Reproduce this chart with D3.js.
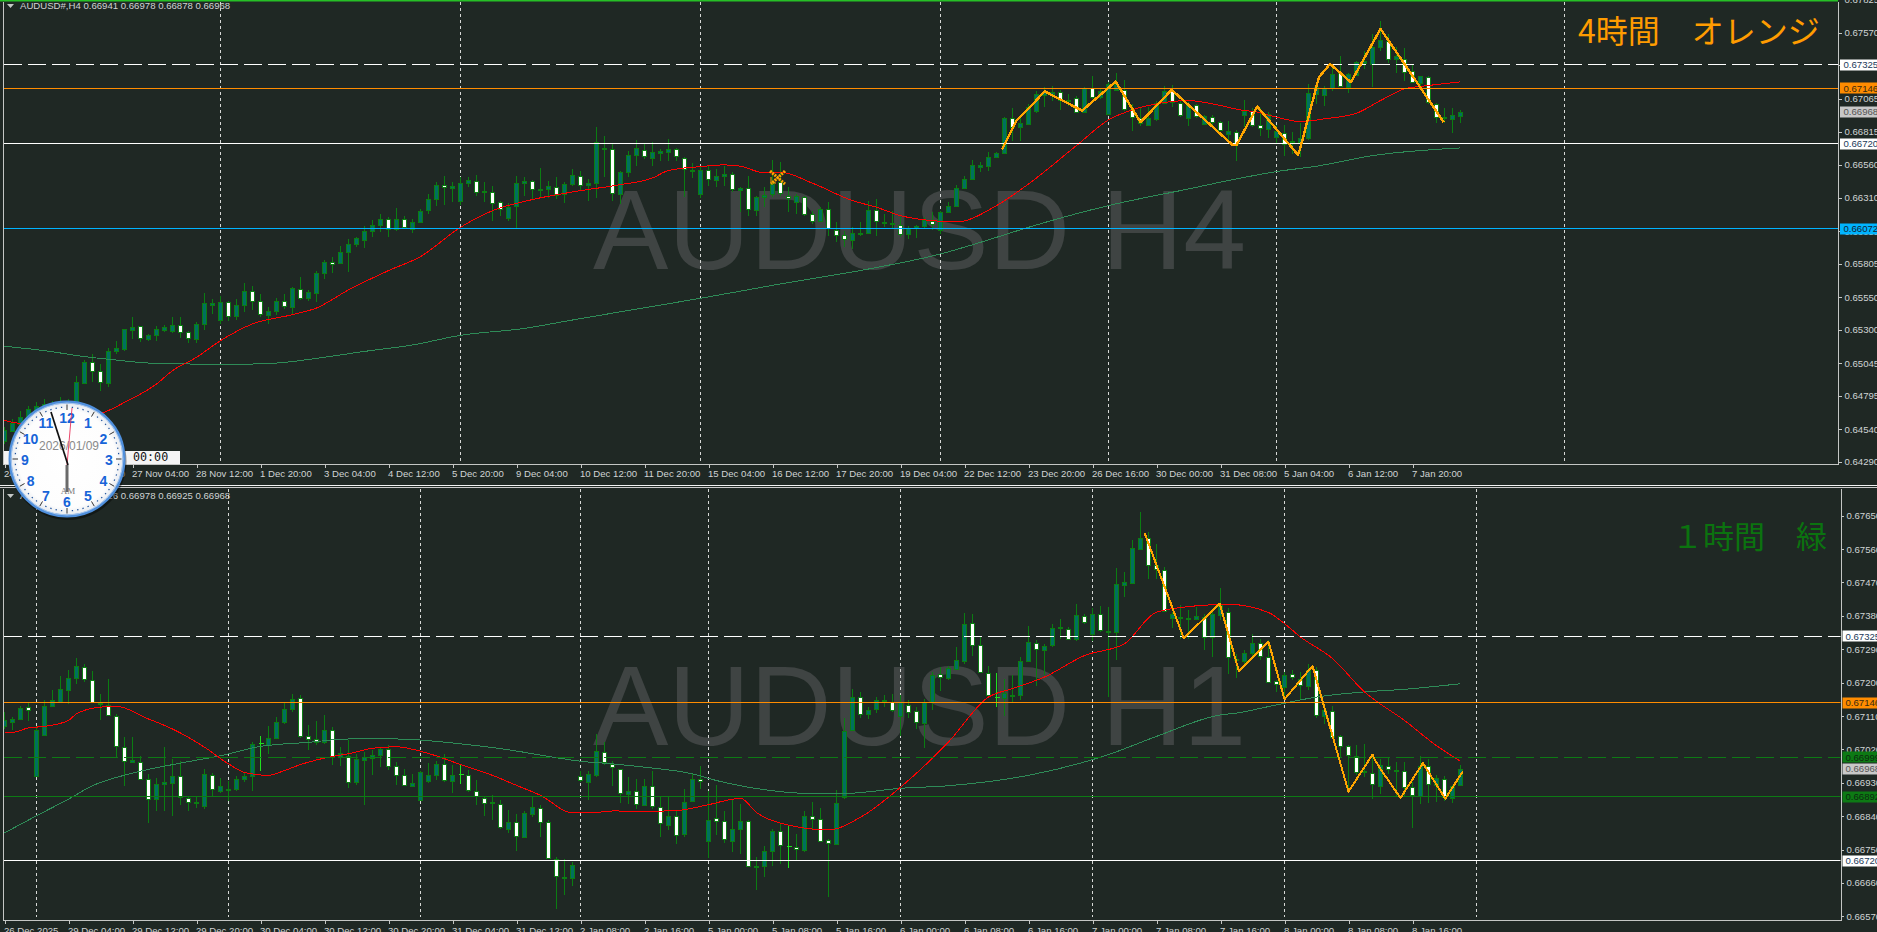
<!DOCTYPE html>
<html><head><meta charset="utf-8">
<script src="https://cdnjs.cloudflare.com/ajax/libs/d3/7.8.5/d3.min.js"></script>
<style>html,body{margin:0;padding:0;background:#1f2824;overflow:hidden}svg{display:block}</style>
</head><body><svg id="c" width="1877" height="932"></svg>
<script>
// Prices are stored in points (1e-5)
const h4Open=[64451,64527,64584,64629,64655,64693,64719,64719,64680,64744,64890,65050,64981,64897,65134,65150,65300,65326,65226,65257,65300,65292,65336,65280,65231,65343,65494,65379,65509,65402,65489,65593,65517,65410,65440,65517,65471,65614,65540,65586,65731,65815,65808,65892,65955,65986,66055,66098,66144,66070,66144,66070,66121,66216,66297,66407,66381,66282,66420,66440,66351,66356,66274,66154,66246,66422,66435,66374,66376,66394,66343,66415,66478,66404,66420,66682,66680,66338,66506,66636,66677,66613,66657,66657,66680,66616,66516,66343,66519,66443,66476,66488,66369,66381,66216,66312,66338,66427,66325,66277,66318,66182,66131,66221,66063,66022,65986,66037,66040,66213,66121,66108,66103,66032,66075,66091,66129,66063,66200,66246,66379,66453,66550,66550,66618,66652,66917,66848,66879,66970,67095,67103,67116,67047,67075,66965,67149,67078,66947,67134,67136,66988,66919,66868,66909,67039,67123,67032,66924,67016,66873,66930,66886,66797,66815,66937,66975,66868,66835,66771,66802,66736,66736,66764,67103,67098,67146,67261,67154,67251,67343,67332,67460,67511,67368,67373,67276,67185,67230,67024,66922,66917,66941];
const h4Close=[64533,64589,64635,64693,64719,64731,64668,64757,64744,64902,65053,64981,64900,65139,65160,65305,65323,65231,65259,65305,65321,65336,65282,65236,65343,65504,65507,65514,65405,65489,65596,65519,65420,65443,65519,65476,65619,65542,65588,65736,65818,65802,65892,65955,66001,66057,66098,66144,66070,66144,66080,66121,66208,66297,66407,66394,66399,66422,66445,66356,66361,66269,66223,66241,66422,66437,66376,66376,66399,66333,66417,66483,66409,66422,66736,66692,66341,66504,66636,66692,66631,66657,66669,66682,66624,66529,66524,66524,66448,66476,66491,66371,66384,66218,66315,66330,66414,66343,66312,66320,66190,66131,66223,66073,66024,65989,66040,66042,66216,66126,66114,66116,66037,66078,66091,66139,66103,66198,66246,66381,66450,66560,66562,66621,66649,66919,66848,66879,67006,67100,67116,67118,67052,67057,66970,67146,67078,67123,67179,67179,66993,66930,66879,66919,67032,67128,67042,66937,67021,66930,66935,66889,66822,66817,66720,66970,66866,66843,66950,66817,66720,66746,66766,67111,67154,67149,67256,67159,67256,67348,67358,67465,67516,67371,67389,67276,67195,67236,67039,66922,66924,66945,66968];
const h4High=[64553,64617,64680,64719,64744,64770,64757,64782,64770,64948,65068,65114,65037,65160,65211,65305,65394,65331,65267,65331,65338,65400,65395,65293,65361,65581,65535,65560,65522,65535,65657,65637,65573,65471,65542,65573,65624,65700,65604,65751,65833,65859,65943,65991,66012,66096,66142,66185,66159,66231,66172,66147,66223,66338,66427,66478,66427,66465,66465,66486,66427,66402,66287,66267,66478,66465,66445,66537,66440,66465,66427,66529,66516,66453,66853,66784,66720,66516,66669,66751,66720,66733,66682,66759,66687,66618,66575,66542,66555,66529,66555,66504,66389,66478,66325,66389,66601,66585,66389,66338,66325,66210,66236,66279,66121,66057,66083,66121,66287,66300,66185,66210,66159,66096,66103,66165,66198,66210,66274,66409,66473,66598,66585,66657,66657,66924,66996,66937,67026,67128,67154,67164,67134,67103,67083,67159,67236,67146,67192,67266,67210,67026,67001,67006,67052,67167,67174,67052,67039,67026,66945,66945,66899,66894,66828,67057,66996,66996,66968,66868,66868,66815,66879,67179,67179,67167,67332,67389,67261,67358,67434,67562,67659,67562,67460,67455,67320,67243,67236,67032,66996,66996,66978];
const h4Low=[64425,64515,64578,64617,64642,64668,64655,64693,64668,64731,64884,64897,64828,64864,65114,65139,65229,65203,65211,65216,65280,65272,65236,65196,65196,65300,65420,65343,65364,65374,65433,65451,65395,65343,65415,65458,65420,65527,65522,65509,65685,65731,65802,65739,65930,65925,66012,66045,66012,66057,66070,66037,66114,66185,66246,66256,66274,66256,66389,66325,66274,66129,66172,66129,66073,66325,66300,66312,66307,66297,66267,66402,66369,66282,66307,66465,66282,66261,66465,66550,66606,66555,66593,66593,66593,66312,66458,66307,66402,66389,66402,66351,66198,66172,66172,66236,66312,66325,66198,66185,66172,66108,66121,66019,65968,65930,65917,66019,66032,66019,66083,66070,66006,65991,66001,66078,66063,66032,66198,66241,66376,66445,66504,66511,66618,66644,66746,66746,66873,66955,67006,67052,66981,67014,66963,66963,67065,67065,66945,67123,66975,66817,66861,66861,66899,67034,67006,66924,66861,66919,66868,66868,66817,66720,66588,66848,66848,66784,66766,66720,66631,66644,66618,66751,67026,67014,67128,67154,67108,67241,67294,67154,67429,67338,67261,67205,67190,67154,67026,66879,66879,66802,66878];

const h1Open=[67082,67094,67102,67134,66949,67059,67137,67150,67181,67212,67242,67206,67145,67140,67110,67026,66986,66987,66940,66887,66926,66929,66949,66889,66875,66869,66950,66909,66910,66913,66941,66949,67035,67033,67051,67096,67129,67158,67055,67048,67038,67072,67000,67003,66932,66992,66997,67005,67021,66974,66950,66923,66885,66935,66950,66980,66935,66951,66950,66907,66890,66877,66872,66805,66824,66784,66846,66863,66824,66724,66675,66673,66947,66932,66950,67012,66980,66967,66899,66909,66871,66921,66866,66818,66840,66792,66881,66939,66773,66836,66826,66772,66805,66826,66702,66706,66747,66799,66757,66756,66749,66840,66832,66775,66765,66891,67071,67161,67116,67129,67151,67147,67109,67141,67124,67092,67148,67222,67212,67239,67260,67361,67301,67226,67160,67160,67167,67166,67259,67307,67289,67302,67347,67344,67316,67380,67332,67384,67337,67337,67463,67469,67562,67591,67517,67503,67375,67375,67370,67370,67378,67323,67383,67390,67265,67260,67280,67306,67269,67204,67188,67222,67210,67191,67234,67110,67123,67055,67028,67001,66959,66956,66921,66975,66961,66963,66918,66894,66974,66924,66939,66887,66926];
const h1Close=[67098,67102,67132,67127,67073,67137,67152,67184,67213,67244,67209,67148,67141,67113,67028,66987,66992,66941,66887,66927,66931,66949,66893,66879,66878,66954,66913,66922,66914,66941,66949,67035,67035,67052,67094,67130,67157,67055,67048,67040,67071,67000,67011,66934,66993,67000,67005,67022,66974,66951,66923,66930,66960,66951,66981,66936,66951,66951,66909,66893,66877,66874,66809,66824,66785,66849,66864,66825,66728,66677,66671,66708,66935,66954,67015,66985,66971,66901,66908,66873,66922,66868,66823,66841,66790,66878,66941,66934,66830,66828,66777,66805,66827,66705,66706,66746,66800,66760,66757,66750,66841,66833,66774,66767,66876,67069,67161,67114,67127,67154,67154,67125,67147,67122,67095,67148,67220,67214,67239,67262,67359,67303,67228,67167,67160,67173,67163,67258,67310,67291,67299,67348,67349,67317,67381,67364,67386,67341,67339,67467,67470,67564,67591,67519,67506,67392,67386,67378,67373,67379,67323,67386,67409,67269,67262,67281,67308,67271,67202,67196,67221,67214,67194,67235,67112,67125,67053,67028,67003,66958,66963,66925,66978,66966,66965,66920,66897,66976,66925,66942,66891,66920,66968];
const h1High=[67120,67107,67136,67145,67084,67152,67179,67217,67233,67267,67251,67230,67170,67210,67116,67053,67053,67001,66954,66943,67026,66995,66990,66893,66891,66967,66956,66943,66936,66947,66958,67040,67055,67082,67107,67148,67170,67166,67087,67096,67114,67080,67026,67044,67008,67012,67017,67026,67032,66985,66967,66954,66963,66983,66990,67008,66977,66981,66965,66938,66895,66898,66884,66857,66846,66855,66891,66869,66830,66729,66725,66716,66963,66963,67062,67039,66990,66968,66945,66941,66941,66963,66891,66891,66855,66913,66954,66974,66909,66925,66855,66887,66873,66830,66731,66760,66805,66819,66814,66792,66855,66877,66862,66779,66911,67105,67184,67175,67134,67161,67166,67170,67166,67152,67134,67156,67228,67242,67246,67296,67388,67386,67323,67244,67226,67210,67220,67269,67352,67314,67305,67357,67372,67350,67411,67386,67400,67406,67404,67510,67498,67584,67659,67606,67575,67512,67391,67409,67395,67404,67386,67391,67456,67400,67278,67287,67330,67318,67314,67206,67228,67233,67228,67249,67242,67138,67138,67058,67031,67033,67035,67008,66994,66997,66985,66985,66931,67003,66995,66950,66947,66925,66978];
const h1Low=[67075,67071,67098,67096,66947,67058,67134,67148,67143,67195,67201,67145,67098,67111,66997,66920,66986,66938,66821,66855,66855,66841,66869,66855,66862,66858,66891,66902,66882,66909,66931,66909,66961,67008,67049,67089,67120,67051,67017,67033,67035,66979,66974,66916,66925,66869,66950,66972,66965,66923,66920,66920,66882,66929,66938,66932,66902,66927,66905,66871,66841,66830,66805,66794,66747,66781,66837,66785,66725,66590,66628,66653,66931,66884,66945,66977,66920,66875,66873,66860,66868,66860,66785,66803,66765,66785,66877,66913,66727,66790,66767,66743,66738,66702,66641,66675,66706,66711,66700,66720,66744,66803,66772,66621,66763,66887,67069,67105,67102,67118,67134,67120,67055,67105,67076,67024,67127,67177,67208,67238,67249,67273,67226,67161,67134,67109,67148,67152,67256,67190,67220,67296,67318,67314,67312,67359,67312,67337,67161,67262,67431,67467,67557,67480,67478,67391,67346,67318,67318,67368,67287,67269,67368,67224,67213,67242,67269,67260,67201,67174,67161,67206,67157,67179,67105,67089,67049,66999,66904,66950,66945,66887,66900,66954,66891,66891,66808,66873,66875,66879,66880,66875,66925];

// Moving averages: bar index and value
const h4RedBars=[0,2,12,15,19,21,24,27,31,36,39,43,48,52,57,61,66,72,77,81,83,87,90,92,95,97,101,106,109,112,117,119,124,128,134,138,141,144,148,152,155,156,159,162,165,169,172,175,178,182];
const h4RedVals=[64607,64584,64660,64744,64885,64987,65089,65216,65344,65415,65466,65604,65752,65859,66083,66210,66295,66363,66409,66460,66517,66547,66560,66550,66499,66504,66420,66287,66236,66172,66129,66124,66249,66414,66708,66904,66981,67027,67052,67014,66975,66970,66925,66891,66912,66955,67052,67141,67167,67195];
const h4GreenBars=[0,5,10,14,18,24,28,34,39,45,51,57,65,71,79,87,97,108,117,122,128,138,148,154,159,164,171,182];
const h4GreenVals=[65173,65140,65094,65068,65045,65037,65035,65045,65081,65134,65183,65257,65310,65374,65458,65540,65650,65764,65879,65968,66083,66249,66376,66453,66509,66550,66631,66690];
const h4ZigBars=[124.7,126.5,128.2,130,134.7,138.9,142,145.9,153.5,154,156.6,161.7,162,164.3,165.7,168.3,172,175,179.9];
const h4ZigVals=[66677,66899,67001,67123,66975,67197,66886,67134,66713,66713,67006,66636,66695,67230,67332,67192,67600,67332,66886];
const h1RedBars=[0,1,3,5,8,9,12,14,18,21,25,28,30,33,35,37,41,43,46,49,52,55,57,61,64,67,71,74,76,80,84,88,92,94,98,103,107,112,118,123,126,130,135,140,144,149,153,158,160,162,166,170,175,179,182];
const h1RedVals=[67066,67066,67078,67082,67098,67116,67134,67136,67102,67075,67026,66981,66958,66950,66963,66979,67001,67008,67023,67027,67015,66995,66979,66950,66923,66896,66849,66850,66854,66853,66855,66871,66888,66850,66816,66803,66837,66918,67040,67161,67184,67215,67273,67305,67390,67407,67411,67389,67359,67323,67265,67175,67098,67030,66988];
const h1GreenBars=[0,4,8,11,16,22,27,32,38,43,49,57,63,68,72,76,80,86,89,93,97,102,106,112,118,128,138,144,152,154,159,164,170,175,182];
const h1GreenVals=[66795,66841,66886,66922,66956,66983,67003,67028,67039,67048,67048,67035,67019,67001,66988,66981,66972,66954,66936,66918,66906,66900,66902,66915,66922,66950,67006,67055,67113,67118,67140,67161,67175,67182,67197];
const h1ZigBars=[142.5,147.4,151.9,154.3,158,160,163.5,168,171,171.3,172,174.5,177.3,180.1,182.3];
const h1ZigVals=[67604,67320,67413,67231,67310,67155,67245,66906,67006,66992,66967,66889,66983,66887,66961];

const h4PriceTicks=[67825,67570,67320,67065,66815,66560,66310,66055,65805,65550,65300,65045,64795,64540,64290];
const h1PriceTicks=[67650,67560,67470,67380,67290,67200,67110,67020,66930,66840,66750,66660,66570];
const h4TimeLabels=["24 Nov 12:00","25 Nov 20:00","27 Nov 04:00","28 Nov 12:00","1 Dec 20:00","3 Dec 04:00","4 Dec 12:00","5 Dec 20:00","9 Dec 04:00","10 Dec 12:00","11 Dec 20:00","15 Dec 04:00","16 Dec 12:00","17 Dec 20:00","19 Dec 04:00","22 Dec 12:00","23 Dec 20:00","26 Dec 16:00","30 Dec 00:00","31 Dec 08:00","5 Jan 04:00","6 Jan 12:00","7 Jan 20:00"];
const h1TimeLabels=["26 Dec 2025","29 Dec 04:00","29 Dec 12:00","29 Dec 20:00","30 Dec 04:00","30 Dec 12:00","30 Dec 20:00","31 Dec 04:00","31 Dec 12:00","2 Jan 08:00","2 Jan 16:00","5 Jan 00:00","5 Jan 08:00","5 Jan 16:00","6 Jan 00:00","6 Jan 08:00","6 Jan 16:00","7 Jan 00:00","7 Jan 08:00","7 Jan 16:00","8 Jan 00:00","8 Jan 08:00","8 Jan 16:00"];
const h4Separators=[27,57,87,117,138,159,195];
const h1Separators=[4,28,52,72,88,112,136,160,184];
const h4Levels=[67325,67146,66720,66072];
const h4LevelKinds=["dashWhite","orange","white","blue"];
const h1Levels=[67325,67146,66999,66892,66720];
const h1LevelKinds=["dashWhite","orange","dashGreen","green","white"];
const h4Current=66968, h1Current=66968;
const clockNumbers=[12,1,2,3,4,5,6,7,8,9,10,11];

const BG="#1f2824",WICK="#0b7d12",TEAL="#00705f",FONT="'Liberation Sans',Arial,sans-serif",AX="#d0d4d4";
const kinds={
 dashWhite:{c:"#ffffff",d:"18 6",w:1,box:"#ffffff",t:"#1b3a5a"},
 orange:{c:"#ff8c00",d:null,w:1,box:"#ff8c00",t:"#3a2a10"},
 white:{c:"#ffffff",d:null,w:1,box:"#ffffff",t:"#1b3a5a"},
 blue:{c:"#00b4ff",d:null,w:1,box:"#00b4ff",t:"#123"},
 dashGreen:{c:"#0d7a14",d:"18 6",w:1,box:"#0d7a14",t:"#0c2a10"},
 green:{c:"#0d7a14",d:null,w:1,box:"#0d7a14",t:"#0c2a10"}
};
const svg=d3.select("#c");
svg.append("rect").attr("width",1877).attr("height",932).attr("fill",BG);
const defs=svg.append("defs");

const xBar=d3.scaleLinear().domain([0,1]).range([4.5,12.5]);
function fmt(v){return d3.format(".5f")(v/1e5);}

function panel(o){
 const {id,top,bottom,right,y,open,close,high,low}=o;
 defs.append("clipPath").attr("id",id).append("rect").attr("x",4).attr("y",top).attr("width",right-4).attr("height",bottom-top);
 const g=svg.append("g").attr("clip-path",`url(#${id})`);
 g.append("text").attr("x",o.wmX).attr("y",o.wmY).attr("font-family",FONT).attr("font-size",o.wmSize).attr("fill","#3f4443").text(o.wm);
 g.selectAll(".sep").data(o.seps).join("line").attr("x1",d=>xBar(d)).attr("x2",d=>xBar(d)).attr("y1",top).attr("y2",o.sepEnd)
  .attr("stroke","#d6d8d6").attr("stroke-width",1).attr("stroke-dasharray","3 3").attr("shape-rendering","crispEdges");
 const n=d3.range(open.length);
 g.selectAll(".w").data(n).join("line").attr("x1",i=>xBar(i)).attr("x2",i=>xBar(i)).attr("y1",i=>y(high[i])).attr("y2",i=>y(low[i]))
  .attr("stroke",i=>open[i]===close[i]?"#1fe01f":WICK).attr("stroke-width",1).attr("shape-rendering","crispEdges");
 g.selectAll(".b").data(n.filter(i=>open[i]!==close[i])).join("rect")
  .attr("x",i=>xBar(i)-2).attr("width",4)
  .attr("y",i=>Math.round(y(Math.max(open[i],close[i])))+.5)
  .attr("height",i=>Math.max(1,Math.round(Math.abs(y(open[i])-y(close[i])))))
  .attr("fill",i=>close[i]>open[i]?TEAL:"#ffffff")
  .attr("stroke",WICK).attr("stroke-width",1).attr("shape-rendering","crispEdges");
 g.selectAll(".dj").data(n.filter(i=>open[i]===close[i])).join("line")
  .attr("x1",i=>xBar(i)-2).attr("x2",i=>xBar(i)+3).attr("y1",i=>y(open[i])).attr("y2",i=>y(open[i]))
  .attr("stroke","#1fe01f").attr("shape-rendering","crispEdges");
 const L=(bars,vals,c,w,curve)=>g.append("path").attr("fill","none").attr("stroke",c).attr("stroke-width",w).attr("shape-rendering","crispEdges")
   .attr("d",d3.line().x(i=>xBar(bars[i])).y(i=>y(vals[i])).curve(curve)(d3.range(bars.length)));
 L(o.greenB,o.greenV,"#2e8b57",1,d3.curveMonotoneX);
 L(o.redB,o.redV,"#ff0000",1,d3.curveMonotoneX);
 o.levels.forEach((v,i)=>{const k=kinds[o.kinds[i]];
  g.append("line").attr("x1",4).attr("x2",right).attr("y1",y(v)).attr("y2",y(v)).attr("stroke",k.c).attr("stroke-width",k.w)
   .attr("stroke-dasharray",k.d).attr("shape-rendering","crispEdges");});
 L(o.zigB,o.zigV,"#ffa500",o.zigW,d3.curveLinear).attr("stroke-linejoin","round");
 const ya=d3.axisRight(y).tickValues(o.ticks).tickFormat(fmt).tickSize(3);
 const yg=svg.append("g").attr("transform",`translate(${right+.5},0)`).call(ya);
 yg.select(".domain").remove();
 yg.selectAll("line").attr("stroke","#c4c6c4").attr("shape-rendering","crispEdges");
 yg.selectAll("text").attr("x",o.labelDx).attr("font-family",FONT).attr("font-size",9.6).attr("fill",AX);
 const tv=d3.range(o.times.length).map(i=>i*8);
 const xa=d3.axisBottom(xBar).tickValues(tv).tickFormat((d,i)=>o.times[i]).tickSize(3);
 const xg=svg.append("g").attr("transform",`translate(0,${bottom+.5})`).call(xa);
 xg.select(".domain").remove();
 xg.selectAll("line").attr("stroke","#c4c6c4").attr("shape-rendering","crispEdges");
 xg.selectAll("text").attr("text-anchor","start").attr("y",o.timeDy).attr("dy",0).attr("x",-1).attr("font-family",FONT).attr("font-size",9.6).attr("fill",AX);
 svg.append("path").attr("d",`M3.5 ${top}V${bottom+.5}H${right+.5}V${top}`).attr("fill","none").attr("stroke","#c4c6c4").attr("shape-rendering","crispEdges");
 const boxes=o.levels.map((v,i)=>({v,k:kinds[o.kinds[i]]})).concat([{v:o.current,k:{box:"#c8c8c8",t:"#555"}}]);
 boxes.forEach(b=>{
  svg.append("rect").attr("x",right+2).attr("width",40).attr("y",Math.round(y(b.v))-5.5).attr("height",11).attr("fill",b.k.box);
  svg.append("text").attr("x",right+o.labelDx-.5).attr("y",y(b.v)+3.5).attr("font-family",FONT).attr("font-size",9.6).attr("fill",b.k.t).text(fmt(b.v));
 });
 svg.append("path").attr("d",`M7 ${o.headY-5}h7l-3.5 4z`).attr("fill","#c4c8c6");
 svg.append("text").attr("x",20).attr("y",o.headY).attr("font-family",FONT).attr("font-size",9.6).attr("fill",AX).text(o.head);
 svg.append("text").attr("x",o.titleX).attr("y",o.titleY).attr("font-family","'Noto Sans CJK JP',sans-serif").attr("font-size",o.titleSize).attr("fill",o.titleC).text(o.title);
}

svg.append("rect").attr("x",0).attr("y",0).attr("width",1838).attr("height",1.5).attr("fill","#26c026");

panel({id:"p1",top:1.5,bottom:464,right:1838,
 y:d3.scaleLinear().domain([64290,67570]).range([461.8,32.8]),
 open:h4Open,close:h4Close,high:h4High,low:h4Low,
 seps:h4Separators,sepEnd:463,wm:"AUDUSD H4",wmX:593,wmY:269,wmSize:113,
 greenB:h4GreenBars,greenV:h4GreenVals,redB:h4RedBars,redV:h4RedVals,zigB:h4ZigBars,zigV:h4ZigVals,zigW:2.4,
 levels:h4Levels,kinds:h4LevelKinds,current:h4Current,ticks:h4PriceTicks,times:h4TimeLabels,labelDx:6,timeDy:12.5,
 head:"AUDUSD#,H4  0.66941 0.66978 0.66878 0.66968",headY:9,
 title:"4時間　オレンジ",titleX:1578,titleY:43,titleSize:32,titleC:"#ff9c00"});

svg.append("rect").attr("x",0).attr("y",485).attr("width",1877).attr("height",1).attr("fill","#f2f2f2");
svg.append("rect").attr("x",0).attr("y",487).attr("width",1877).attr("height",1).attr("fill","#c8c8c8");

panel({id:"p2",top:488.5,bottom:920,right:1840.5,
 y:d3.scaleLinear().domain([66570,67650]).range([916.3,515.7]),
 open:h1Open,close:h1Close,high:h1High,low:h1Low,
 seps:h1Separators,sepEnd:917,wm:"AUDUSD H1",wmX:593,wmY:745,wmSize:113,
 greenB:h1GreenBars,greenV:h1GreenVals,redB:h1RedBars,redV:h1RedVals,zigB:h1ZigBars,zigV:h1ZigVals,zigW:2,
 levels:h1Levels,kinds:h1LevelKinds,current:h1Current,ticks:h1PriceTicks,times:h1TimeLabels,labelDx:5.5,timeDy:13,
 head:"AUDUSD#,H1  0.66926 0.66978 0.66925 0.66968",headY:499,
 title:"１時間　緑",titleX:1672,titleY:548,titleSize:31,titleC:"#0b730f"});

// object marker on H4 chart
const mk=svg.append("g").attr("stroke","#ffa500").attr("fill","none");
mk.append("path").attr("d","M770 171L785 184M785 171L771 184").attr("stroke-width",3).attr("stroke-dasharray","2 1");
mk.append("path").attr("d","M771 177v6h5").attr("stroke-width",1);

// clock
const cx=67,cy=459,R=57;
const ck=svg.append("g");
ck.append("rect").attr("x",4).attr("y",451).attr("width",176).attr("height",13).attr("fill","#f4f4f4");
ck.append("text").attr("x",133).attr("y",460.5).attr("font-family","'DejaVu Sans Mono',monospace").attr("font-size",11.7).attr("fill","#111").text("00:00");
ck.append("circle").attr("cx",cx+1).attr("cy",cy+2.5).attr("r",R+1.5).attr("fill","#000").attr("opacity",.4);
const rg=defs.append("radialGradient").attr("id","face");
rg.append("stop").attr("offset","0%").attr("stop-color","#ffffff");
rg.append("stop").attr("offset","85%").attr("stop-color","#fdfdfd");
rg.append("stop").attr("offset","100%").attr("stop-color","#e4e8ee");
ck.append("circle").attr("cx",cx).attr("cy",cy).attr("r",R).attr("fill","url(#face)").attr("stroke","#4f8fdc").attr("stroke-width",3);
ck.append("circle").attr("cx",cx).attr("cy",cy).attr("r",R-1).attr("fill","none").attr("stroke","#a9c8ee").attr("stroke-width",1);
d3.range(60).forEach(i=>{const a=i*Math.PI/30,major=i%5===0,r1=major?R-2.5:R-4.5,r2=major?R-8:R-5.7;
 ck.append("line").attr("x1",cx+r1*Math.sin(a)).attr("y1",cy-r1*Math.cos(a)).attr("x2",cx+r2*Math.sin(a)).attr("y2",cy-r2*Math.cos(a))
  .attr("stroke",major?"#333":"#1b4f9a").attr("stroke-width",major?1:1.3);});
clockNumbers.forEach((n,i)=>{const a=i*Math.PI/6,r=42;
 ck.append("text").attr("x",cx+r*Math.sin(a)).attr("y",cy-r*Math.cos(a)+5.5).attr("text-anchor","middle").attr("font-family",FONT).attr("font-weight","bold").attr("font-size",14).attr("fill","#1764d8").text(n);});
ck.append("text").attr("x",cx+2).attr("y",450).attr("text-anchor","middle").attr("font-family",FONT).attr("font-size",12).attr("fill","#8a8a8a").text("2026/01/09");
ck.append("text").attr("x",cx+1).attr("y",494).attr("text-anchor","middle").attr("font-family","'Liberation Serif',serif").attr("font-size",9).attr("fill","#777").text("AM");
ck.append("line").attr("x1",67).attr("y1",465).attr("x2",67).attr("y2",492).attr("stroke","#6a6a6a").attr("stroke-width",3);
ck.append("line").attr("x1",67).attr("y1",465).attr("x2",72).attr("y2",408).attr("stroke","#e8325a").attr("stroke-width",.9);
ck.append("line").attr("x1",68).attr("y1",465).attr("x2",51).attr("y2",412).attr("stroke","#111").attr("stroke-width",1.7);
</script></body></html>
